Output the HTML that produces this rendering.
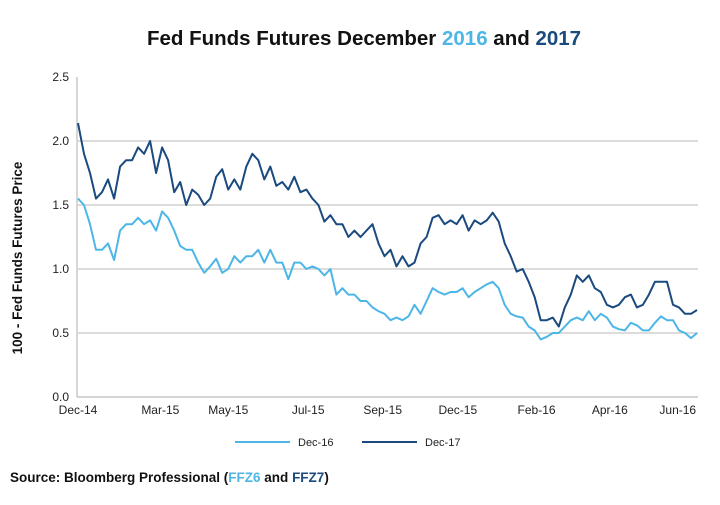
<!DOCTYPE html>
<html><head><meta charset="utf-8"><style>
body{margin:0;background:#fff;font-family:"Liberation Sans",sans-serif}
svg text{font-family:"Liberation Sans",sans-serif}
</style></head><body>
<svg id="c" width="720" height="500">
<text x="364" y="45" text-anchor="middle" font-size="20.5" font-weight="bold" fill="#111">Fed Funds Futures December <tspan fill="#4db6e6">2016</tspan> and <tspan fill="#1a4a7e">2017</tspan></text>
<text transform="translate(22,258) rotate(-90)" text-anchor="middle" font-size="13.5" font-weight="bold" fill="#111">100 - Fed Funds Futures Price</text>
<g id="grid"></g><g id="series"></g>
<g>
<line x1="235" y1="442" x2="290" y2="442" stroke="#4db6e6" stroke-width="2"/>
<text x="298" y="446" font-size="11" fill="#222">Dec-16</text>
<line x1="362" y1="442" x2="417" y2="442" stroke="#1a4a7e" stroke-width="2"/>
<text x="425" y="446" font-size="11" fill="#222">Dec-17</text>
</g>
<text x="10" y="482" font-size="13.5" font-weight="bold" fill="#111">Source: Bloomberg Professional (<tspan fill="#4db6e6">FFZ6</tspan> and <tspan fill="#1a4a7e">FFZ7</tspan>)</text>
</svg>
<script>
const yTicks=[0,0.5,1.0,1.5,2.0,2.5];
const xLabels=["Dec-14","Mar-15","May-15","Jul-15","Sep-15","Dec-15","Feb-16","Apr-16","Jun-16"];
const xLabelIdx=[0,13.7,25,38.3,50.7,63.2,76.3,88.5,99.8];
const dec17=[2.14,1.9,1.75,1.55,1.6,1.7,1.55,1.8,1.85,1.85,1.95,1.9,2.0,1.75,1.95,1.85,1.6,1.68,1.5,1.62,1.58,1.5,1.55,1.72,1.78,1.62,1.7,1.62,1.8,1.9,1.85,1.7,1.8,1.65,1.68,1.62,1.72,1.6,1.62,1.55,1.5,1.37,1.42,1.35,1.35,1.25,1.3,1.25,1.3,1.35,1.2,1.1,1.15,1.02,1.1,1.02,1.05,1.2,1.25,1.4,1.42,1.35,1.38,1.35,1.42,1.3,1.38,1.35,1.38,1.44,1.37,1.2,1.1,0.98,1.0,0.9,0.78,0.6,0.6,0.62,0.55,0.7,0.8,0.95,0.9,0.95,0.85,0.82,0.72,0.7,0.72,0.78,0.8,0.7,0.72,0.8,0.9,0.9,0.9,0.72,0.7,0.65,0.65,0.68];
const dec16=[1.55,1.5,1.35,1.15,1.15,1.2,1.07,1.3,1.35,1.35,1.4,1.35,1.38,1.3,1.45,1.4,1.3,1.18,1.15,1.15,1.05,0.97,1.02,1.08,0.97,1.0,1.1,1.05,1.1,1.1,1.15,1.05,1.15,1.05,1.05,0.92,1.05,1.05,1.0,1.02,1.0,0.95,1.0,0.8,0.85,0.8,0.8,0.75,0.75,0.7,0.67,0.65,0.6,0.62,0.6,0.63,0.72,0.65,0.75,0.85,0.82,0.8,0.82,0.82,0.85,0.78,0.82,0.85,0.88,0.9,0.85,0.72,0.65,0.63,0.62,0.55,0.52,0.45,0.47,0.5,0.5,0.55,0.6,0.62,0.6,0.67,0.6,0.65,0.62,0.55,0.53,0.52,0.58,0.56,0.52,0.52,0.58,0.63,0.6,0.6,0.52,0.5,0.46,0.5];
const X0=78,X1=697,Y0=397,Y1=77;
const n=dec17.length;
const xs=i=>X0+(X1-X0)*i/(n-1);
const ys=v=>Y0-(Y0-Y1)*v/2.5;
const NS="http://www.w3.org/2000/svg";
const grid=document.getElementById('grid'),ser=document.getElementById('series');
function mk(tag,at,p){const e=document.createElementNS(NS,tag);for(const k in at)e.setAttribute(k,at[k]);p.appendChild(e);return e;}
yTicks.forEach(t=>{
 if(t>0&&t<2.5){const l=mk('line',{x1:X0,x2:698,y1:ys(t),y2:ys(t),stroke:'#c8c8c8','stroke-width':1.2},grid);
 
 }
 const tx=mk('text',{x:69,y:ys(t)+4,'text-anchor':'end','font-size':12,fill:'#222'},grid);
 tx.textContent=t.toFixed(1);
 
 
});
const ax=mk('line',{x1:X0-1,x2:X0-1,y1:Y1,y2:Y0,stroke:'#bbb','stroke-width':1.2},grid);


const bx=mk('line',{x1:X0-1,x2:698,y1:Y0,y2:Y0,stroke:'#bbb','stroke-width':1.2},grid);


xLabels.forEach((s,i)=>{
 const tx=mk('text',{x:xs(xLabelIdx[i]),y:414,'text-anchor':'middle','font-size':12,fill:'#222'},grid);
 tx.textContent=s;
 
 
});
function line(d,col,name){
 const p=mk('polyline',{points:d.map((v,i)=>xs(i).toFixed(1)+','+ys(v).toFixed(1)).join(' '),fill:'none',stroke:col,'stroke-width':2,'stroke-linejoin':'round'},ser);
 
 
}
line(dec16,'#4db6e6','line-dec16');
line(dec17,'#1a4a7e','line-dec17');
</script>
</body></html>
